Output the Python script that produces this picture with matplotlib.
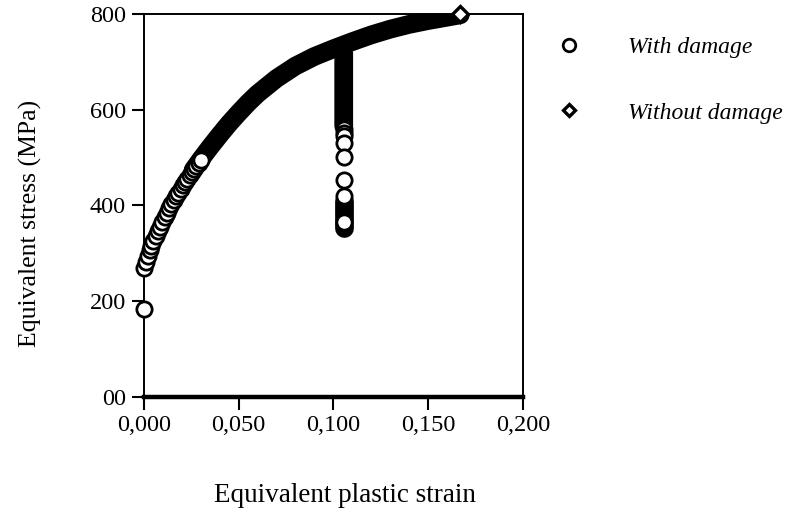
import matplotlib

matplotlib.use("Agg")
import matplotlib.pyplot as plt

# with damage: individually visible circles (hardening start and the stress drop)
damage_strain = [
    0.0000, 0.0000, 0.0010, 0.0020, 0.0030, 0.0040, 0.0050, 0.0062, 0.0074,
    0.0086, 0.0098, 0.0110, 0.0122, 0.0134, 0.0146, 0.0158, 0.0170, 0.0182,
    0.0194, 0.0206, 0.0218, 0.0230, 0.0242, 0.0254, 0.0266, 0.0278, 0.0290,
    0.0302,
]
damage_stress = [
    183, 270, 283, 295, 306, 316, 326, 336, 346,
    356, 366, 376, 385, 394, 403, 411, 419, 427,
    435, 442, 449, 456, 463, 470, 477, 483, 489,
    495,
]
drop_strain = [0.1055, 0.1055, 0.1055, 0.1055, 0.1055, 0.1055, 0.1055]
drop_stress = [560, 552, 545, 531, 501, 453, 419]
drop_last_strain = [0.1055]
drop_last_stress = [366]

# dense runs of markers that print as a solid band
band_strain = [
    0.026, 0.030, 0.035, 0.040, 0.045, 0.050, 0.055, 0.060, 0.070, 0.080,
    0.090, 0.100, 0.110, 0.120, 0.130, 0.140, 0.150, 0.160, 0.167,
]
band_stress = [
    474, 496, 522, 547, 571, 593, 614, 633, 665, 691,
    711, 727, 742, 756, 768, 778, 786, 793, 798,
]
drop_band_strain = [0.1030, 0.1055, 0.1055]
drop_band_stress = [727, 718, 566]
drop_tail_strain = [0.1055, 0.1055]
drop_tail_stress = [410, 352]

# without damage: end point of the curve
nodamage_strain = [0.167]
nodamage_stress = [800]

x_ticks = [0.0, 0.05, 0.10, 0.15, 0.20]
x_tick_labels = ["0,000", "0,050", "0,100", "0,150", "0,200"]
y_ticks = [0, 200, 400, 600, 800]
y_tick_labels = ["00", "200", "400", "600", "800"]

plt.rcParams["font.family"] = ["Liberation Serif", "DejaVu Serif"]

fig = plt.figure(figsize=(8.08, 5.13), dpi=100)
ax = fig.add_axes([0.178, 0.226, 0.469, 0.747])

band_kw = dict(color="black", lw=13.5, solid_capstyle="round",
               solid_joinstyle="round", zorder=2)
ax.plot(band_strain, band_stress, **band_kw)
ax.plot(drop_band_strain, drop_band_stress, **band_kw)
ax.plot(drop_tail_strain, drop_tail_stress, **band_kw)

circle_kw = dict(ls="none", marker="o", ms=11, mfc="white", mec="black",
                 mew=2.0, zorder=3, clip_on=False)
ax.plot(damage_strain, damage_stress, label="With damage", **circle_kw)
ax.plot(drop_strain, drop_stress, **circle_kw)
ax.plot(drop_last_strain, drop_last_stress, **circle_kw)
ax.plot(nodamage_strain, nodamage_stress, ls="none", marker="D", ms=8,
        mfc="white", mec="black", mew=2.4, zorder=4, clip_on=False,
        label="Without damage")

ax.set_xlim(0, 0.2)
ax.set_ylim(0, 800)
ax.set_xticks(x_ticks, labels=x_tick_labels)
ax.set_yticks(y_ticks, labels=y_tick_labels)
ax.tick_params(direction="out", length=9, width=1.5, labelsize=17.5,
               colors="black", pad=4)
for side in ("left", "top", "right"):
    ax.spines[side].set_linewidth(1.4)
ax.spines["bottom"].set_linewidth(3.2)

ax.set_xlabel("Equivalent plastic strain", fontsize=19.5)
ax.set_ylabel("Equivalent stress (MPa)", fontsize=18.5)
ax.xaxis.set_label_coords(0.530, -0.2245)
ax.yaxis.set_label_coords(-0.269, 0.454)

ax.legend(loc="upper left", bbox_to_anchor=(1.092, 0.94), frameon=False,
          borderpad=0, borderaxespad=0, handlelength=1.0, handletextpad=2.0,
          labelspacing=1.85, markerscale=0.82,
          prop={"family": "Liberation Serif", "style": "italic", "size": 17})

fig.savefig("out.png", dpi=100)
